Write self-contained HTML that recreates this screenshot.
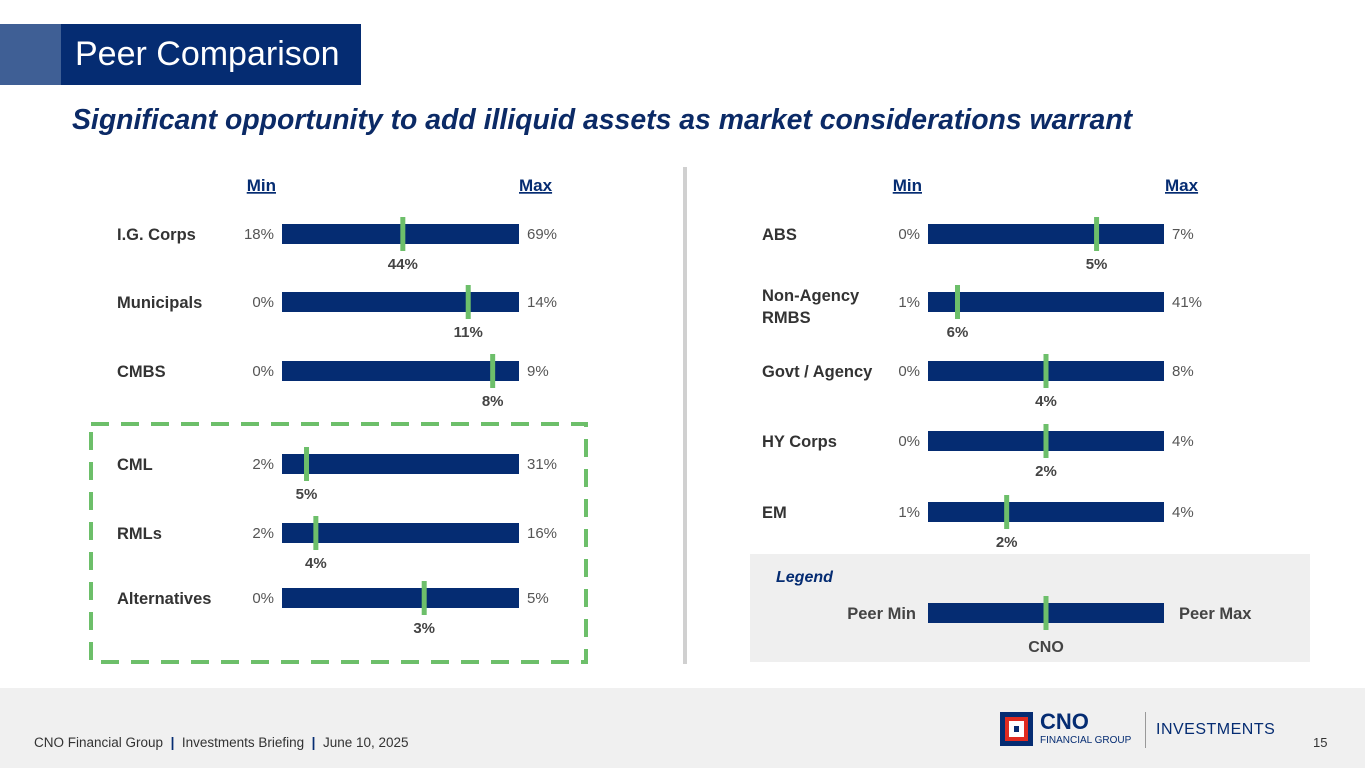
<!DOCTYPE html>
<html><head><meta charset="utf-8"><style>
body{margin:0;width:1365px;height:768px;position:relative;background:#fff;font-family:"Liberation Sans",Arial,sans-serif;overflow:hidden}
.abs{position:absolute}
</style></head><body>
<div class="abs" style="left:0;top:24px;width:61px;height:61px;background:#3f5f95"></div>
<div class="abs" style="left:61px;top:24px;width:300px;height:61px;background:#052c72;color:#fff;font-size:34px;line-height:61px;padding-left:14px;box-sizing:border-box">Peer Comparison</div>
<div class="abs" style="left:72px;top:104px;font-size:28.4px;font-weight:bold;font-style:italic;color:#0b2a66">Significant opportunity to add illiquid assets as market considerations warrant</div>
<svg class="abs" id="chart" style="left:0;top:0" width="1365" height="688"></svg>
<div class="abs" style="left:0;top:688px;width:1365px;height:80px;background:#f0f0f0"></div>
<div class="abs" style="left:34px;top:735px;font-size:13.5px;color:#333">CNO Financial Group &nbsp;<b style="color:#052c72">|</b>&nbsp; Investments Briefing &nbsp;<b style="color:#052c72">|</b>&nbsp; June 10, 2025</div>
<div class="abs" style="left:1313px;top:735px;font-size:13px;color:#333">15</div>
<div class="abs" style="left:1000px;top:712px;width:33px;height:34px;background:#052c72">
<div style="position:absolute;left:5px;top:5px;width:23px;height:24px;background:#e02b20"></div>
<div style="position:absolute;left:9px;top:9px;width:15px;height:16px;background:#fff"></div>
<div style="position:absolute;left:14px;top:14px;width:5px;height:6px;background:#052c72"></div></div>
<div class="abs" style="left:1040px;top:711px;font-size:22px;font-weight:bold;color:#052c72;line-height:22px">CNO</div>
<div class="abs" style="left:1040px;top:735px;font-size:10px;color:#052c72">FINANCIAL GROUP</div>
<div class="abs" style="left:1145px;top:712px;width:1px;height:36px;background:#999"></div>
<div class="abs" style="left:1156px;top:721px;font-size:16px;color:#052c72;letter-spacing:0.5px">INVESTMENTS</div>
<script>
const leftCats=["I.G. Corps","Municipals","CMBS","CML","RMLs","Alternatives"];
const leftMin=[18,0,0,2,2,0];
const leftMax=[69,14,9,31,16,5];
const leftCno=[44,11,8,5,4,3];
const rightCats=["ABS","Non-Agency RMBS","Govt / Agency","HY Corps","EM"];
const rightMin=[0,1,0,0,1];
const rightMax=[7,41,8,4,4];
const rightCno=[5,6,4,2,2];
const NS="http://www.w3.org/2000/svg";
const svg=document.getElementById('chart');
function mk(t,a,txt){const e=document.createElementNS(NS,t);for(const k in a)e.setAttribute(k,a[k]);if(txt!=null)e.textContent=txt;svg.appendChild(e);return e;}
let d=mk('rect',{x:91,y:424,width:495,height:238,fill:'none',stroke:'#6dbf6a','stroke-width':4,'stroke-dasharray':'18,12'});

d=mk('rect',{x:683,y:167,width:4,height:497,fill:'#d0d0d0'});

d=mk('rect',{x:750,y:554,width:560,height:108,fill:'#efefef'});

function headers(x0,x1){
 let t=mk('text',{x:x0-6,y:191,'text-anchor':'end','font-size':17,'font-weight':'bold',fill:'#052c72','text-decoration':'underline'},'Min');
 
 t=mk('text',{x:x1,y:191,'font-size':17,'font-weight':'bold',fill:'#052c72','text-decoration':'underline'},'Max');
 
}
function row(labX,x0,x1,y,cat,mn,mx,cno,minTxt,maxTxt,valTxt){
 const xs=v=>x0+(v-mn)/(mx-mn)*(x1-x0);
 const parts=cat.split(' RMBS');
 let t;
 if(parts.length>1){
  t=mk('text',{x:labX,y:y-1,'font-size':16.5,'font-weight':'bold',fill:'#333'},parts[0]);
  
  t=mk('text',{x:labX,y:y+21,'font-size':16.5,'font-weight':'bold',fill:'#333'},'RMBS');
  
 } else {
  t=mk('text',{x:labX,y:y+6,'font-size':16.5,'font-weight':'bold',fill:'#333'},cat);
  
 }
 t=mk('text',{x:x0-8,y:y+5,'text-anchor':'end','font-size':15,fill:'#555'},minTxt);
 
 t=mk('text',{x:x1+8,y:y+5,'font-size':15,fill:'#555'},maxTxt);
 
 let r=mk('rect',{x:x0,y:y-10,width:x1-x0,height:20,fill:'#052c72'});
 
 const cx=xs(cno);
 r=mk('rect',{x:cx-2.5,y:y-17,width:5,height:34,fill:'#6dbf6a'});
 
 t=mk('text',{x:cx,y:y+35,'text-anchor':'middle','font-size':15,'font-weight':'bold',fill:'#444'},valTxt);
 
}
headers(282,519);headers(928,1165);
const leftY=[234,302,371,464,533,598];
leftCats.forEach((c,i)=>row(117,282,519,leftY[i],c,leftMin[i],leftMax[i],leftCno[i],leftMin[i]+'%',leftMax[i]+'%',leftCno[i]+'%'));
const rightY=[234,302,371,441,512];
rightCats.forEach((c,i)=>row(762,928,1164,rightY[i],c,rightMin[i],rightMax[i],rightCno[i],rightMin[i]+'%',rightMax[i]+'%',rightCno[i]+'%'));
let t=mk('text',{x:776,y:582,'font-size':16,'font-weight':'bold','font-style':'italic',fill:'#052c72'},'Legend');

let r=mk('rect',{x:928,y:603,width:236,height:20,fill:'#052c72'});

r=mk('rect',{x:1043.5,y:596,width:5,height:34,fill:'#6dbf6a'});

t=mk('text',{x:916,y:619,'text-anchor':'end','font-size':16.5,'font-weight':'bold',fill:'#444'},'Peer Min');

t=mk('text',{x:1179,y:619,'font-size':16.5,'font-weight':'bold',fill:'#444'},'Peer Max');

t=mk('text',{x:1046,y:652,'text-anchor':'middle','font-size':16,'font-weight':'bold',fill:'#444'},'CNO');

</script>
</body></html>
